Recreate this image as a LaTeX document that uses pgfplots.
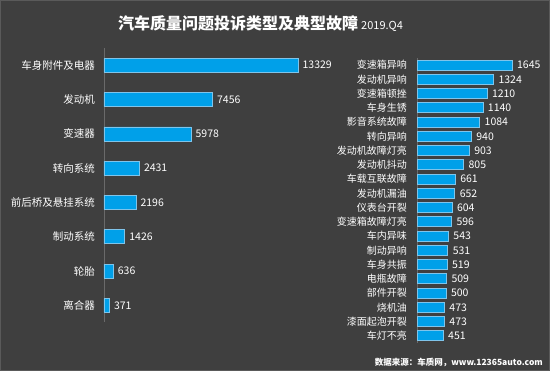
\documentclass[border=0pt]{standalone}
\usepackage{fontspec}
\setmainfont{Noto Sans CJK SC}
\usepackage{pgfplots}
\pgfplotsset{compat=1.18}
\definecolor{bg}{HTML}{3F3F3F}
\definecolor{frame}{HTML}{5A5A5A}
\definecolor{barblue}{HTML}{00A0E9}
\definecolor{barline}{HTML}{7FC4EA}
\definecolor{axisgray}{HTML}{6A6A6A}
\begin{document}
\begin{tikzpicture}[x=1pt,y=1pt]
\fill[bg] (0,0) rectangle (550,371);
\draw[frame,line width=0.8pt] (0.4,0.4) rectangle (549.6,370.6);
\node[anchor=west,text=white,inner sep=0pt] at (118,347) {{\bfseries\fontsize{16}{18}\selectfont 汽车质量问题投诉类型及典型故障}\hspace{3pt}{\fontsize{11}{12}\selectfont 2019.Q4}};
\node[anchor=east,text=white,inner sep=0pt] at (543,8.5) {\bfseries\fontsize{8.5}{10}\selectfont 数据来源：车质网，www.12365auto.com};

% left panel
\begin{axis}[
  at={(104pt,48.5pt)}, anchor=south west,
  scale only axis, width=194pt, height=274.4pt,
  xbar, bar width=14pt,
  xmin=0, xmax=13329,
  ymin=-0.5, ymax=7.5, y dir=reverse,
  separate axis lines,
  axis x line=none,
  axis y line*=left,
  axis line style={axisgray,line width=0.8pt,-},
  ytick={0,...,7},
  yticklabels={车身附件及电器,发动机,变速器,转向系统,前后桥及悬挂系统,制动系统,轮胎,离合器},
  major tick length=0pt,
  yticklabel style={text=white,font=\fontsize{10.5}{12}\selectfont,inner sep=0pt,xshift=-9pt},
  nodes near coords,
  nodes near coords style={text=white,font=\fontsize{10.5}{12}\selectfont,/pgf/number format/assume math mode=true,/pgf/number format/fixed,/pgf/number format/1000 sep={},xshift=1pt},
  clip=false,
]
\addplot[fill=barblue,draw=barline,line width=0.6pt] coordinates {
(13329,0) (7456,1) (5978,2) (2431,3) (2196,4) (1426,5) (636,6) (371,7)};
\end{axis}

% right panel
\begin{axis}[
  at={(417pt,28.1pt)}, anchor=south west,
  scale only axis, width=95pt, height=285pt,
  xbar, bar width=10pt,
  xmin=0, xmax=1645,
  ymin=-0.5, ymax=19.5, y dir=reverse,
  separate axis lines,
  axis x line=none,
  axis y line*=left,
  axis line style={axisgray,line width=0.8pt,-},
  ytick={0,...,19},
  yticklabels={变速箱异响,发动机异响,变速箱顿挫,车身生锈,影音系统故障,转向异响,发动机故障灯亮,发动机抖动,车载互联故障,发动机漏油,仪表台开裂,变速箱故障灯亮,车内异味,制动异响,车身共振,电瓶故障,部件开裂,烧机油,漆面起泡开裂,车灯不亮},
  major tick length=0pt,
  yticklabel style={text=white,font=\fontsize{10}{11}\selectfont,inner sep=0pt,xshift=-10pt},
  nodes near coords,
  nodes near coords style={text=white,font=\fontsize{10.5}{12}\selectfont,/pgf/number format/assume math mode=true,/pgf/number format/fixed,/pgf/number format/1000 sep={},xshift=1.5pt},
  clip=false,
]
\addplot[fill=barblue,draw=barline,line width=0.6pt] coordinates {
(1645,0) (1324,1) (1210,2) (1140,3) (1084,4) (940,5) (903,6) (805,7) (661,8) (652,9)
(604,10) (596,11) (543,12) (531,13) (519,14) (509,15) (500,16) (473,17) (473,18) (451,19)};
\end{axis}
\end{tikzpicture}
\end{document}
